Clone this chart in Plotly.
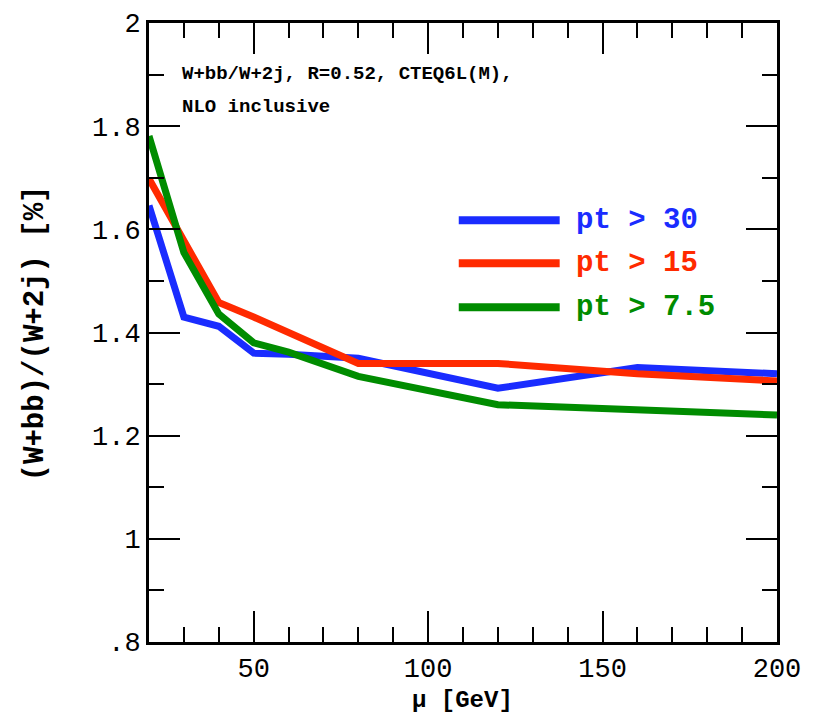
import plotly.graph_objects as go

# ---- data ----
mu = [20, 30, 40, 50, 60, 80, 120, 160, 200]
ratio_pt30 = [1.646, 1.43, 1.412, 1.36, 1.358, 1.35, 1.292, 1.332, 1.32]
ratio_pt15 = [1.698, 1.578, 1.458, 1.43, 1.40, 1.34, 1.34, 1.32, 1.306]
ratio_pt75 = [1.781, 1.555, 1.436, 1.38, 1.362, 1.315, 1.26, 1.25, 1.24]

series_names = ["pt > 30", "pt > 15", "pt > 7.5"]
series_colors = ["#1a2cff", "#ff2a00", "#008c00"]
series_values = [ratio_pt30, ratio_pt15, ratio_pt75]

y_tickvals = [0.8, 1.0, 1.2, 1.4, 1.6, 1.8, 2.0]
y_ticktext = [".8", "1", "1.2", "1.4", "1.6", "1.8", "2"]
x_tickvals = [50, 100, 150, 200]
x_ticktext = ["50", "100", "150", "200"]

title_line1 = "W+bb/W+2j, R=0.52, CTEQ6L(M),"
title_line2 = "NLO inclusive"
x_title = "μ [GeV]"
y_title = "(W+bb)/(W+2j) [%]"

MONO = "Liberation Mono"

fig = go.Figure()
for name, col, vals in zip(series_names, series_colors, series_values):
    fig.add_trace(go.Scatter(x=mu, y=vals, mode="lines", name=name,
                             line=dict(color=col, width=7), showlegend=False))

# page has an 8px body margin; figure is sized to fit inside it
OFF = 8
FW, FH = 818 - 2 * OFF, 721 - 2 * OFF
# plot area in page pixels
L, R, T, B = 149, 777.5, 22.5, 642
W, H = R - L, B - T

def px(x):
    return (x - L) / W

def py(y):
    return (B - y) / H

# manual legend
leg_y = [220, 263, 307]
for name, col, yy in zip(series_names, series_colors, leg_y):
    fig.add_shape(type="line", xref="paper", yref="paper",
                  x0=px(459), x1=px(560), y0=py(yy), y1=py(yy),
                  line=dict(color=col, width=8))
    fig.add_annotation(xref="paper", yref="paper", x=px(574), y=py(yy),
                       text="<b>" + name.replace(">", "&gt;") + "</b>", showarrow=False,
                       xanchor="left", yanchor="middle",
                       font=dict(family=MONO, size=29, color=col))

fig.add_annotation(xref="paper", yref="paper", x=px(180), y=py(74),
                   text="<b>" + title_line1 + "</b>", showarrow=False,
                   xanchor="left", yanchor="middle",
                   font=dict(family=MONO, size=19, color="black"))
fig.add_annotation(xref="paper", yref="paper", x=px(180), y=py(107),
                   text="<b>" + title_line2 + "</b>", showarrow=False,
                   xanchor="left", yanchor="middle",
                   font=dict(family=MONO, size=19, color="black"))

fig.add_annotation(xref="paper", yref="paper", x=px(35), y=py(333),
                   text="<b>" + y_title + "</b>", showarrow=False, textangle=-90,
                   xanchor="center", yanchor="middle",
                   font=dict(family=MONO, size=29, color="black"))
fig.add_annotation(xref="paper", yref="paper", x=px(463), y=py(701),
                   text="<b>" + x_title + "</b>", showarrow=False,
                   xanchor="center", yanchor="middle",
                   font=dict(family=MONO, size=24, color="black"))

axis_common = dict(showline=True, linewidth=3, linecolor="black", mirror="ticks",
                   ticks="inside", tickcolor="black", tickwidth=2,
                   showgrid=False, zeroline=False, automargin=False,
                   tickfont=dict(family=MONO, size=27, color="black"))

fig.update_xaxes(range=[20, 200], tickmode="array", tickvals=x_tickvals, ticktext=x_ticktext,
                 ticklen=31,
                 minor=dict(dtick=10, tick0=0, ticks="inside", ticklen=15, tickwidth=2,
                            tickcolor="black", showgrid=False),
                 **axis_common)
fig.update_yaxes(range=[0.8, 2.0], tickmode="array", tickvals=y_tickvals, ticktext=y_ticktext,
                 ticklen=31,
                 minor=dict(dtick=0.1, tick0=0, ticks="inside", ticklen=15, tickwidth=2,
                            tickcolor="black", showgrid=False),
                 **axis_common)

fig.update_layout(width=FW, height=FH,
                  margin=dict(l=L - OFF, r=FW - (R - OFF), t=T - OFF, b=FH - (B - OFF), pad=0),
                  plot_bgcolor="white", paper_bgcolor="white",
                  showlegend=False)

fig.write_html("out.html")
